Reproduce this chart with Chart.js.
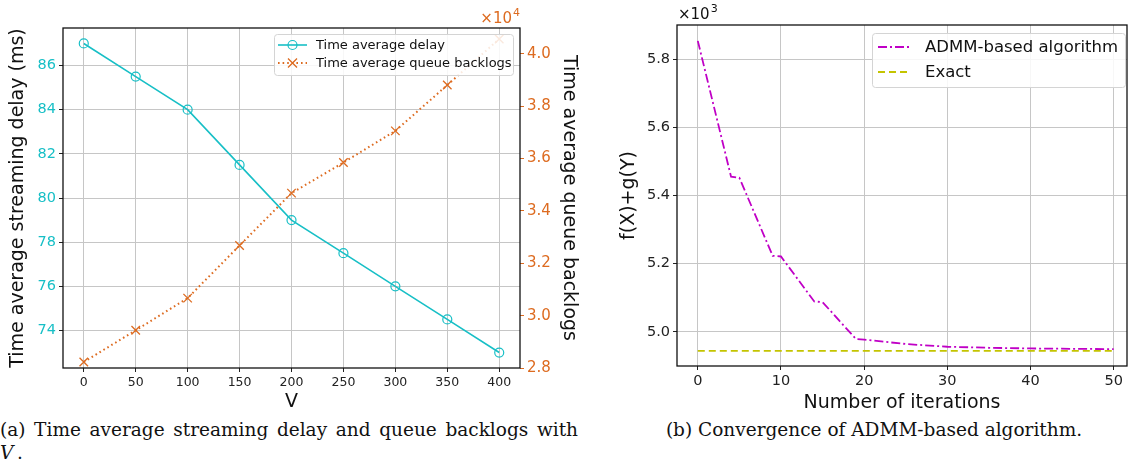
<!DOCTYPE html>
<html>
<head>
<meta charset="utf-8">
<script src="https://cdn.jsdelivr.net/npm/chart.js@4.4.1/dist/chart.umd.min.js"></script>
<style>
body { margin:0; background:#fff; width:1128px; height:464px; overflow:hidden; position:relative; }
#left { position:absolute; left:0; top:0; }
#right { position:absolute; left:590px; top:0; }
.cap { position:absolute; font-family:"DejaVu Serif", serif; font-size:18.5px; color:#111; white-space:nowrap; }
</style>
</head>
<body>
<canvas id="left" width="590" height="415"></canvas>
<canvas id="right" width="538" height="415"></canvas>
<div class="cap" style="left:0;top:419px;width:578px;text-align:justify;text-align-last:justify;white-space:normal">(a) Time average streaming delay and queue backlogs with</div>
<div class="cap" style="left:0;top:442px"><i>V</i>&thinsp;.</div>
<div class="cap" style="left:620px;top:419px;width:508px;text-align:center">(b) Convergence of ADMM-based algorithm.</div>
<script>
// left chart: delay and backlogs against V
var vValues = [0, 50, 100, 150, 200, 250, 300, 350, 400];
var delayMs = [87, 85.5, 84, 81.5, 79, 77.5, 76, 74.5, 73];
var queueBacklogs = [28230, 29440, 30670, 32680, 34680, 35850, 37060, 38810, 40570];
var vTicks = [0, 50, 100, 150, 200, 250, 300, 350, 400];
var delayTicks = [74, 76, 78, 80, 82, 84, 86];
var backlogTicks = [28000, 30000, 32000, 34000, 36000, 38000, 40000];

// right chart: objective per iteration
var iterations = [0, 4, 5, 9, 10, 14, 15, 19, 20, 25, 30, 35, 40, 45, 50];
var admmObjective = [5854, 5455, 5452, 5223, 5221, 5089, 5087, 4979, 4977, 4964, 4956, 4953, 4951, 4950, 4949];
var exactIterations = [0, 50];
var exactObjective = [4944, 4944];
var iterTicks = [0, 10, 20, 30, 40, 50];
var objectiveTicks = [5000, 5200, 5400, 5600, 5800];

var cyan = '#17bfc6';
var orange = '#dd6b20';
var magenta = '#c000c6';
var olive = '#c4c400';
var gridColor = '#c6c6c6';
var sans = '"DejaVu Sans", sans-serif';

function pairs(xs, ys) {
  var out = [];
  for (var i = 0; i < xs.length; i++) out.push({x: xs[i], y: ys[i]});
  return out;
}

function fixedTicks(list) {
  return function(s) {
    s.ticks = list.map(function(v) { return {value: v}; });
  };
}

// black box round the plot area, like matplotlib spines
var frame = {
  id: 'frame',
  afterDatasetsDraw: function(chart) {
    var a = chart.chartArea, ctx = chart.ctx;
    ctx.save();
    ctx.strokeStyle = '#111';
    ctx.lineWidth = 1.3;
    ctx.strokeRect(a.left, a.top, a.right - a.left, a.bottom - a.top);
    ctx.restore();
  }
};

// the "x10^n" offset text above an axis
var offsetLabel = {
  id: 'offsetLabel',
  afterDraw: function(chart, args, o) {
    var ctx = chart.ctx;
    ctx.save();
    ctx.fillStyle = o.color;
    ctx.textBaseline = 'alphabetic';
    ctx.font = '15px ' + sans;
    var w1 = ctx.measureText('\u00d710').width;
    ctx.font = '11px ' + sans;
    var w2 = ctx.measureText(o.exp).width;
    var x = o.align === 'right' ? o.x - w1 - w2 : o.x;
    ctx.font = '15px ' + sans;
    ctx.fillText('\u00d710', x, o.y);
    ctx.font = '11px ' + sans;
    ctx.fillText(o.exp, x + w1 + 1, o.y - 7);
    ctx.restore();
  }
};

function marker(ctx, style, x, y, r) {
  ctx.beginPath();
  if (style === 'circle') {
    ctx.arc(x, y, r, 0, Math.PI * 2);
  } else if (style === 'crossRot') {
    var d = r * 0.75;
    ctx.moveTo(x - d, y - d); ctx.lineTo(x + d, y + d);
    ctx.moveTo(x + d, y - d); ctx.lineTo(x - d, y + d);
  }
  ctx.stroke();
}

// legend drawn like matplotlib: line sample with marker, then label
var mplLegend = {
  id: 'mplLegend',
  afterDraw: function(chart, args, o) {
    var ctx = chart.ctx;
    ctx.save();
    ctx.fillStyle = 'rgba(255,255,255,0.85)';
    ctx.strokeStyle = '#d4d4d4';
    ctx.lineWidth = 1;
    ctx.beginPath();
    ctx.roundRect(o.x + 0.5, o.y + 0.5, o.w, o.h, 3);
    ctx.fill();
    ctx.stroke();
    ctx.font = o.size + 'px ' + sans;
    ctx.textBaseline = 'middle';
    chart.data.datasets.forEach(function(ds, i) {
      var y = o.y + o.first + i * o.gap;
      ctx.strokeStyle = ds.borderColor;
      ctx.lineWidth = ds.borderWidth;
      ctx.setLineDash(ds.borderDash || []);
      ctx.beginPath();
      ctx.moveTo(o.x + o.l1, y);
      ctx.lineTo(o.x + o.l2, y);
      ctx.stroke();
      ctx.setLineDash([]);
      if (ds.pointRadius > 0) {
        ctx.lineWidth = ds.pointBorderWidth;
        marker(ctx, ds.pointStyle, o.x + (o.l1 + o.l2) / 2, y, ds.pointRadius);
      }
      ctx.fillStyle = '#111';
      ctx.fillText(ds.label, o.x + o.tx, y + 1);
    });
    ctx.restore();
  }
};

new Chart(document.getElementById('left'), {
  type: 'line',
  data: {
    datasets: [{
      label: 'Time average delay',
      data: pairs(vValues, delayMs),
      yAxisID: 'y',
      borderColor: cyan,
      borderWidth: 1.6,
      pointStyle: 'circle',
      pointRadius: 4.5,
      pointBorderWidth: 1.2,
      pointBorderColor: cyan,
      pointBackgroundColor: 'rgba(0,0,0,0)'
    }, {
      label: 'Time average queue backlogs',
      data: pairs(vValues, queueBacklogs),
      yAxisID: 'y2',
      borderColor: orange,
      borderWidth: 2,
      borderDash: [1.6, 3],
      pointStyle: 'crossRot',
      pointRadius: 6,
      pointBorderWidth: 1.3,
      pointBorderColor: orange,
      pointBackgroundColor: 'rgba(0,0,0,0)'
    }]
  },
  options: {
    responsive: false,
    animation: false,
    layout: { padding: { top: 28, right: 0, left: 0, bottom: 0 } },
    plugins: {
      legend: { display: false },
      tooltip: { enabled: false },
      offsetLabel: { x: 519, y: 23, exp: '4', color: orange, align: 'right' },
      mplLegend: { x: 274, y: 34, w: 239, h: 41, first: 11, gap: 18, l1: 4, l2: 33, tx: 42, size: 13 }
    },
    scales: {
      x: {
        type: 'linear', min: -20, max: 420,
        afterFit: function(s) { s.height = 47; },
        afterBuildTicks: fixedTicks(vTicks),
        border: { display: false },
        grid: { color: gridColor, tickColor: '#222', tickLength: 4 },
        ticks: { color: '#222', padding: 3, font: { family: sans, size: 12.5 } },
        title: { display: true, text: 'V', color: '#111', font: { family: sans, size: 19 }, padding: { top: 0, bottom: 2 } }
      },
      y: {
        position: 'left', min: 72.3, max: 87.7,
        afterFit: function(s) { s.width = 63; },
        afterBuildTicks: fixedTicks(delayTicks),
        border: { display: false },
        grid: { color: gridColor, tickColor: '#222', tickLength: 4 },
        ticks: { color: cyan, padding: 3, font: { family: sans, size: 14.5 } },
        title: { display: true, text: 'Time average streaming delay (ms)', color: '#111', font: { family: sans, size: 19 }, padding: { top: 7 } }
      },
      y2: {
        position: 'right', min: 28000, max: 40990,
        afterFit: function(s) { s.width = 70; },
        afterBuildTicks: fixedTicks(backlogTicks),
        border: { display: false },
        grid: { drawOnChartArea: false, tickColor: orange, tickLength: 4 },
        ticks: {
          color: orange, padding: 3, font: { family: sans, size: 15 },
          callback: function(v) { return (v / 10000).toFixed(1); }
        },
        title: { display: true, text: 'Time average queue backlogs', color: '#111', font: { family: sans, size: 19 }, padding: { top: 10 } }
      }
    }
  },
  plugins: [frame, offsetLabel, mplLegend]
});

new Chart(document.getElementById('right'), {
  type: 'line',
  data: {
    datasets: [{
      label: 'ADMM-based algorithm',
      data: pairs(iterations, admmObjective),
      borderColor: magenta,
      borderWidth: 1.8,
      borderDash: [9, 3, 2, 3],
      pointRadius: 0
    }, {
      label: 'Exact',
      data: pairs(exactIterations, exactObjective),
      borderColor: olive,
      borderWidth: 1.8,
      borderDash: [7, 4],
      pointRadius: 0
    }]
  },
  options: {
    responsive: false,
    animation: false,
    layout: { padding: { top: 25, right: 1, left: 0, bottom: 0 } },
    plugins: {
      legend: { display: false },
      tooltip: { enabled: false },
      offsetLabel: { x: 88, y: 19, exp: '3', color: '#111', align: 'left' },
      mplLegend: { x: 282, y: 33, w: 253, h: 54, first: 14, gap: 25, l1: 6, l2: 38, tx: 53, size: 16.5 }
    },
    scales: {
      x: {
        type: 'linear', min: -2.5, max: 51.6,
        afterFit: function(s) { s.height = 49; },
        afterBuildTicks: fixedTicks(iterTicks),
        border: { display: false },
        grid: { color: gridColor, tickColor: '#222', tickLength: 4 },
        ticks: { color: '#222', padding: 3, font: { family: sans, size: 14.5 } },
        title: { display: true, text: 'Number of iterations', color: '#111', font: { family: sans, size: 19 }, padding: { top: 0, bottom: 1 } }
      },
      y: {
        min: 4899.5, max: 5900.5,
        afterFit: function(s) { s.width = 87; },
        afterBuildTicks: fixedTicks(objectiveTicks),
        border: { display: false },
        grid: { color: gridColor, tickColor: '#222', tickLength: 4 },
        ticks: {
          color: '#222', padding: 3, font: { family: sans, size: 14.5 },
          callback: function(v) { return (v / 1000).toFixed(1); }
        },
        title: { display: true, text: 'f(X)+g(Y)', color: '#111', font: { family: sans, size: 19 }, padding: { top: 28 } }
      }
    }
  },
  plugins: [frame, offsetLabel, mplLegend]
});
</script>
</body>
</html>
